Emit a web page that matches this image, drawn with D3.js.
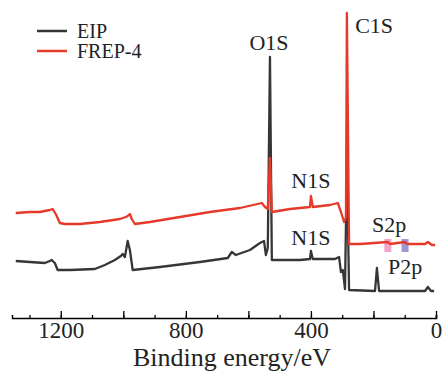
<!DOCTYPE html>
<html>
<head>
<meta charset="utf-8">
<script src="https://cdn.jsdelivr.net/npm/d3@7"></script>
<style>
  body { margin: 0; background: #fff; }
  svg text { font-family: "Liberation Serif", "Times New Roman", serif; fill: #222; }
</style>
</head>
<body>
<div class="chart"></div>
<script>
// binding energy (eV) / intensity (a.u.)
var eipEnergy = [1344,1299,1251,1235,1229,1219,1210,1171,1091,1059,1027,1008,1002,995,986,979,970,883,755,666,653,640,595,563,550,544,538,531,525,435,403,400,394,323,310,304,298,291,285,278,195,189,182,35,26,16,6];
var eipCounts = [57,56,55,57,58,55,48,48,49,53,58,62,64,61,77,68,48,51,56,60,66,63,68,75,77,63,70,261,58,58,59,67,59,59,61,46,48,29,158,28,27,50,27,27,31,27,27];

var frepEnergy = [1344,1299,1267,1235,1226,1216,1203,1187,1139,1075,1011,992,986,979,973,963,915,819,723,627,557,547,538,531,525,467,403,400,394,339,314,304,294,288,285,278,243,154,147,99,93,35,26,13,3];
var frepCounts = [105,106,106,108,109,104,95,94,94,96,99,101,102,104,99,94,96,101,106,110,115,111,109,160,106,109,111,122,111,113,115,106,96,100,305,74,74,76,74,76,74,74,76,73,73];

var seriesNames = ["EIP", "FREP-4"];
var seriesColors = ["#363636", "#e5392a"];

var peakLabels = [
  { text: "O1S", e: 534, c: 268 },
  { text: "C1S", e: 198, c: 285 },
  { text: "N1S", e: 400, c: 130 },
  { text: "N1S", e: 400, c: 73 },
  { text: "S2p", e: 150, c: 86 },
  { text: "P2p", e: 99, c: 44 }
];
var markerEnergy = [154, 99];
var markerColors = ["#f2a3c8", "#9c9ad4"];

var xTicks = d3.range(0, 1400, 100);
var xMajor = d3.range(0, 1400, 200);

var width = 444, height = 372;
var serif = "'Liberation Serif', 'Times New Roman', serif";

var x = d3.scaleLinear().domain([1356, 0]).range([12, 436]);
var y = d3.scaleLinear().domain([0, 305]).range([318, 13]);

var svg = d3.select(".chart").append("svg")
            .attr("width", width)
            .attr("height", height)
            .attr("font-family", serif);

var line = d3.line()
             .x(function(d) { return x(d[0]); })
             .y(function(d) { return y(d[1]); });

var eip = eipEnergy.map(function(e, i) { return [e, eipCounts[i]]; });
var frep = frepEnergy.map(function(e, i) { return [e, frepCounts[i]]; });

// S2p / P2p highlight boxes on the red trace
svg.selectAll(".mark")
   .data(markerEnergy)
   .enter().append("rect")
   .attr("x", function(d) { return x(d) - 3.5; })
   .attr("y", y(79))
   .attr("width", 7)
   .attr("height", 13)
   .attr("fill", function(d, i) { return markerColors[i]; });

svg.append("path")
   .attr("d", line(eip))
   .attr("fill", "none")
   .attr("stroke", seriesColors[0])
   .attr("stroke-width", 2.3)
   .attr("stroke-linejoin", "round");

svg.append("path")
   .attr("d", line(frep))
   .attr("fill", "none")
   .attr("stroke", seriesColors[1])
   .attr("stroke-width", 2.3)
   .attr("stroke-linejoin", "round");

// x axis, ticks pointing inward
var minor = svg.append("g")
   .attr("transform", "translate(0,318)")
   .call(d3.axisBottom(x).tickValues(xTicks).tickSize(-3).tickFormat(""));
minor.select(".domain").attr("stroke-width", 1.5);
minor.selectAll("line").attr("stroke-width", 1.3);

var major = svg.append("g")
   .attr("transform", "translate(0,318)")
   .call(d3.axisBottom(x).tickValues(xMajor).tickSize(-7).tickPadding(4)
           .tickFormat(function(d) { return d % 400 === 0 ? d : ""; }));
major.attr("font-family", serif).attr("font-size", 23);
major.select(".domain").remove();
major.selectAll("line").attr("stroke-width", 1.3);
major.selectAll("text")
     .style("font-family", serif)
     .style("font-size", "23px")
     .attr("fill", "#222");

svg.append("text")
   .attr("x", 232)
   .attr("y", 366)
   .attr("text-anchor", "middle")
   .style("font-size", "26px")
   .text("Binding energy/eV");

// peak annotations
svg.selectAll(".peak")
   .data(peakLabels)
   .enter().append("text")
   .attr("class", "peak")
   .attr("x", function(d) { return x(d.e); })
   .attr("y", function(d) { return y(d.c); })
   .attr("text-anchor", "middle")
   .style("font-size", "22px")
   .text(function(d) { return d.text; });

// legend
var legend = svg.selectAll(".legend")
   .data(seriesNames)
   .enter().append("g")
   .attr("transform", function(d, i) { return "translate(37," + (31 + i * 20) + ")"; });

legend.append("line")
      .attr("x1", 0).attr("x2", 30)
      .attr("stroke", function(d, i) { return seriesColors[i]; })
      .attr("stroke-width", 2.5);

legend.append("text")
      .attr("x", 40)
      .attr("y", 7)
      .style("font-size", "20px")
      .text(function(d) { return d; });
</script>
</body>
</html>
